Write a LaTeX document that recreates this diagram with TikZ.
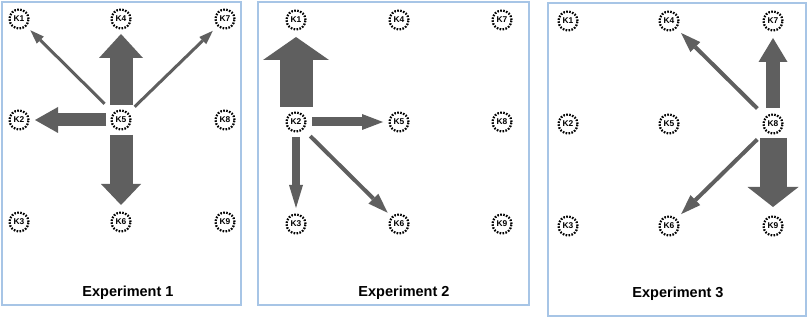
\documentclass[tikz,border=0pt]{standalone}
\usepackage{fontspec}
\setmainfont{Liberation Sans}
\usetikzlibrary{arrows.meta}
\definecolor{framec}{HTML}{A7C5E6}
\definecolor{arrc}{HTML}{5F5F5F}
\tikzset{
  knode/.style={circle, draw=black, dash pattern=on 1.6pt off 1.4pt, line width=2.2pt,
    minimum size=19pt, inner sep=0pt, outer sep=0.5pt,
    font=\fontsize{8.4}{9}\selectfont\bfseries},
  frame/.style={draw=framec, line width=1.3pt},
  exlabel/.style={font=\fontsize{14.5}{16}\selectfont\bfseries},
  barrow/.style n args={3}{draw=arrc, line width=#1, line cap=butt,
    -{Triangle[width=#2, length=#3, line width=0pt]}},
}
\begin{document}
\begin{tikzpicture}[x=1pt,y=-1pt]
\useasboundingbox (0,0) rectangle (809,318);
% frames
\draw[frame] (2,2) rectangle (241,305);
\draw[frame] (258,2) rectangle (529,305);
\draw[frame] (548,3) rectangle (806,316);
% panel labels
\node[exlabel] (e1) at (128,293) {Experiment 1};
\node[exlabel] (e2) at (404,293) {Experiment 2};
\node[exlabel] (e3) at (678,294) {Experiment 3};
% nodes
\foreach \p/\xa/\xb/\xc/\ya/\yb/\yc in {a/19/121/225/19/120/222, b/296/399/502/20/122/224, c/568/669/773/21/124/226}{
  \node[knode] (\p1) at (\xa,\ya) {K1};
  \node[knode] (\p2) at (\xa,\yb) {K2};
  \node[knode] (\p3) at (\xa,\yc) {K3};
  \node[knode] (\p4) at (\xb,\ya) {K4};
  \node[knode] (\p5) at (\xb,\yb) {K5};
  \node[knode] (\p6) at (\xb,\yc) {K6};
  \node[knode] (\p7) at (\xc,\ya) {K7};
  \node[knode] (\p8) at (\xc,\yb) {K8};
  \node[knode] (\p9) at (\xc,\yc) {K9};
}
% Experiment 1
\draw[barrow={23pt}{44pt}{24pt}, shorten <=5pt, shorten >=5pt] (a5) -- (a4);
\draw[barrow={13pt}{26pt}{23pt}, shorten <=5pt, shorten >=6pt] (a5) -- (a2);
\draw[barrow={23pt}{40pt}{21pt}, shorten <=5pt, shorten >=7pt] (a5) -- (a6);
\draw[barrow={3pt}{10pt}{14pt}, shorten <=13pt, shorten >=6pt] (a5) -- (a1);
\draw[barrow={3pt}{10pt}{14pt}, shorten <=9pt, shorten >=7pt] (a5) -- (a7);
% Experiment 2
\draw[barrow={33pt}{66pt}{23pt}, shorten <=5pt, shorten >=7pt] (b2) -- (b1);
\draw[barrow={9pt}{16pt}{21pt}, shorten <=6pt, shorten >=6pt] (b2) -- (b5);
\draw[barrow={8pt}{14pt}{23pt}, shorten <=5pt, shorten >=6pt] (b2) -- (b3);
\draw[barrow={4pt}{14pt}{20pt}, shorten <=10pt, shorten >=6pt] (b2) -- (b6);
% Experiment 3
\draw[barrow={14pt}{29pt}{24pt}, shorten <=6pt, shorten >=7pt] (c8) -- (c7);
\draw[barrow={27pt}{51pt}{20pt}, shorten <=4pt, shorten >=9pt] (c8) -- (c9);
\draw[barrow={4pt}{14pt}{20pt}, shorten <=12pt, shorten >=7pt] (c8) -- (c4);
\draw[barrow={4pt}{14pt}{20pt}, shorten <=12pt, shorten >=7pt] (c8) -- (c6);
\end{tikzpicture}
\end{document}
